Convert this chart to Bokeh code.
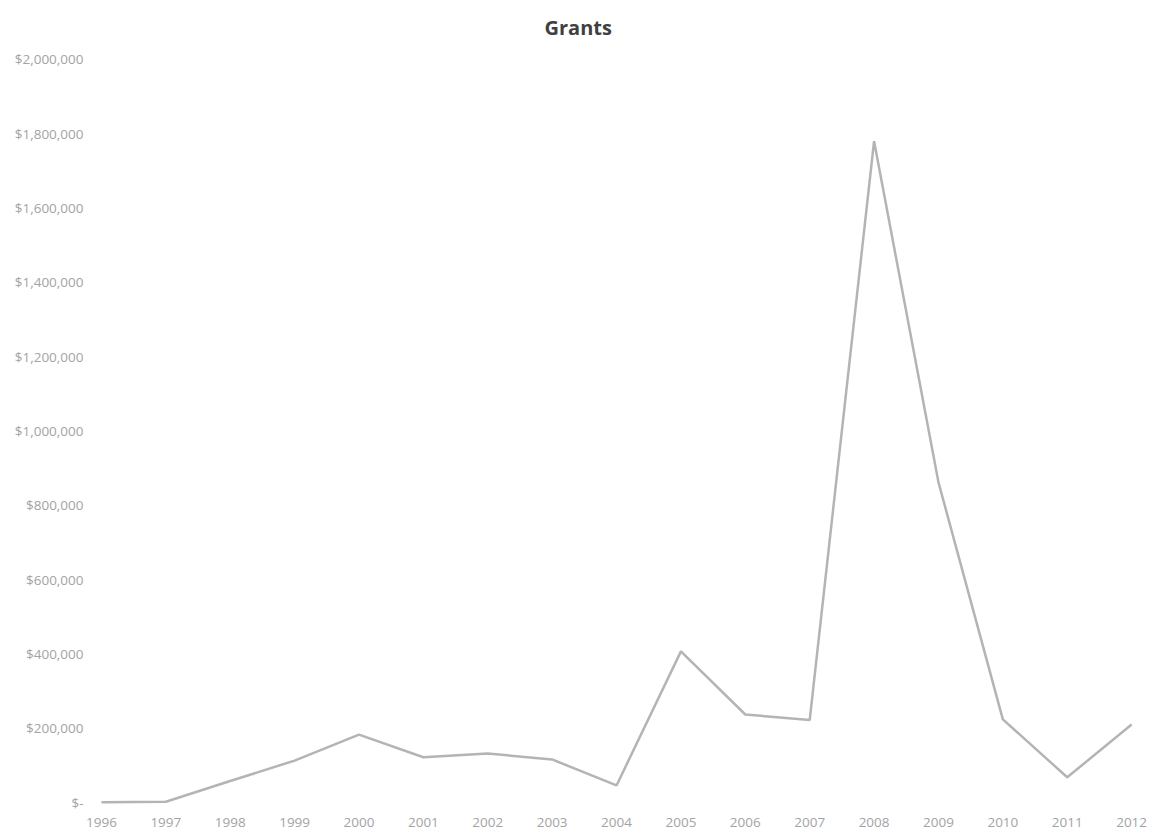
from bokeh.plotting import figure
from bokeh.models import FixedTicker, CustomJSTickFormatter, Range1d
from bokeh.embed import file_html
from bokeh.resources import INLINE

# Annual grant totals (USD)
years = [1996, 1997, 1998, 1999, 2000, 2001, 2002, 2003, 2004,
         2005, 2006, 2007, 2008, 2009, 2010, 2011, 2012]
grants = [1000, 2000, 58000, 113000, 183000, 122000, 132000, 116000, 46000,
          407000, 237000, 222000, 1780000, 862000, 224000, 68000, 210000]

y_ticks = [0, 200000, 400000, 600000, 800000, 1000000,
           1200000, 1400000, 1600000, 1800000, 2000000]

p = figure(width=1154, height=831, output_backend="svg", toolbar_location=None,
           x_range=Range1d(1995.83, 2012.2), y_range=Range1d(-16000, 2021500),
           min_border_left=90, min_border_right=10, min_border_top=50,
           min_border_bottom=23)

p.title.text = "Grants"
p.title.align = "left"
p.title.text_font = "Open Sans"
p.title.text_font_style = "bold"
p.title.text_font_size = "20px"
p.title.text_color = "#404040"
p.title.offset = 454
p.title.standoff = 22

p.line(years, grants, line_color="#b4b4b4", line_width=2.5)

p.xaxis.ticker = FixedTicker(ticks=years)
p.yaxis.ticker = FixedTicker(ticks=y_ticks)
p.yaxis.formatter = CustomJSTickFormatter(code="""
    if (tick == 0) { return "$-"; }
    return "$" + Math.round(tick).toLocaleString("en-US");
""")

for ax in (p.xaxis, p.yaxis):
    ax.axis_line_color = None
    ax.major_tick_line_color = None
    ax.minor_tick_line_color = None
    ax.major_tick_out = 0
    ax.major_tick_in = 0
    ax.minor_tick_out = 0
    ax.major_label_text_font = "Open Sans"
    ax.major_label_text_font_size = "13.5px"
    ax.major_label_text_color = "#a3a3a3"

p.xaxis.major_label_standoff = 9
p.yaxis.major_label_standoff = 7

p.xgrid.grid_line_color = None
p.ygrid.grid_line_color = None
p.outline_line_color = None
p.background_fill_color = "white"
p.border_fill_color = "white"

open("out.html", "w").write(file_html(p, INLINE))
